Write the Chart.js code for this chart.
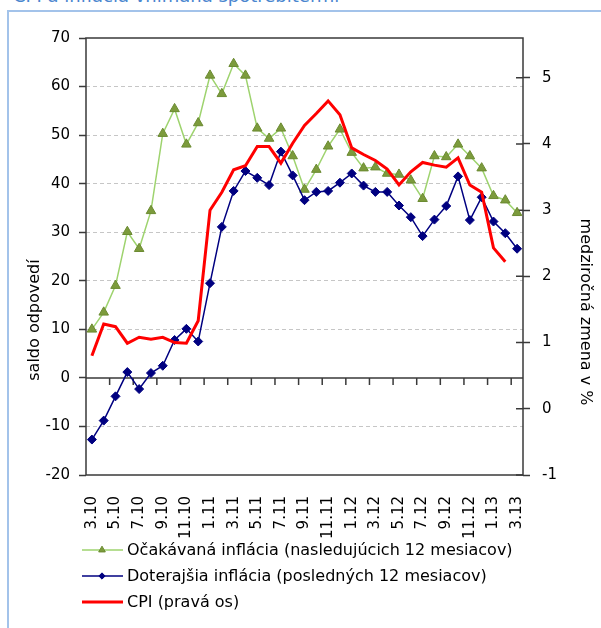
<!DOCTYPE html>
<html>
<head>
<meta charset="utf-8">
<script src="https://cdn.jsdelivr.net/npm/chart.js@4.4.1/dist/chart.umd.min.js"></script>
<style>
  body { margin: 0; background: #fff; overflow: hidden; }
  #title { position: absolute; left: 13px; top: -15px; font: 18px "DejaVu Sans"; color: #4a86cf; white-space: nowrap; }
  #box { position: absolute; left: 7px; top: 10px; width: 700px; height: 700px; border-top: 2px solid #a3c3ea; border-left: 2px solid #a3c3ea; }
  #wrap { position: absolute; left: 0; top: 0; width: 601px; height: 628px; }
</style>
</head>
<body>
<div id="title">CPI a inflácia vnímaná spotrebiteľmi</div>
<div id="box"></div>
<div id="wrap"><canvas id="chart"></canvas></div>
<script>
// months 3.10 .. 3.13
var months = ['3.10','4.10','5.10','6.10','7.10','8.10','9.10','10.10','11.10','12.10',
	'1.11','2.11','3.11','4.11','5.11','6.11','7.11','8.11','9.11','10.11','11.11','12.11',
	'1.12','2.12','3.12','4.12','5.12','6.12','7.12','8.12','9.12','10.12','11.12','12.12',
	'1.13','2.13','3.13'];

// saldo odpovedi - expected inflation (next 12 months)
var expected = [10.0, 13.5, 19.0, 30.1, 26.6, 34.4, 50.3, 55.4, 48.1, 52.5,
	62.3, 58.5, 64.7, 62.3, 51.4, 49.3, 51.4, 45.7, 38.8, 42.9, 47.7, 51.2,
	46.4, 43.2, 43.4, 42.1, 41.9, 40.7, 36.9, 45.7, 45.5, 48.1, 45.7, 43.2,
	37.5, 36.6, 34.0];

// saldo odpovedi - past inflation (last 12 months)
var past = [-12.7, -8.8, -3.8, 1.2, -2.3, 1.0, 2.5, 7.8, 10.1, 7.5,
	19.5, 31.1, 38.5, 42.6, 41.2, 39.7, 46.6, 41.7, 36.6, 38.3, 38.5, 40.2,
	42.1, 39.6, 38.3, 38.3, 35.5, 33.1, 29.2, 32.6, 35.4, 41.5, 32.5, 37.2,
	32.2, 29.8, 26.6];

// CPI y/y in % (right axis)
var cpi = [0.80, 1.28, 1.24, 0.99, 1.08, 1.05, 1.08, 1.00, 0.99, 1.33,
	3.00, 3.27, 3.61, 3.67, 3.96, 3.96, 3.71, 4.01, 4.28, 4.46, 4.65, 4.44,
	3.94, 3.84, 3.75, 3.62, 3.38, 3.58, 3.72, 3.68, 3.65, 3.79, 3.38, 3.27,
	2.43, 2.22, null];

var leftTicks = [-20, -10, 0, 10, 20, 30, 40, 50, 60, 70];
var rightTicks = [-1, 0, 1, 2, 3, 4, 5];

var labelLeft = 'saldo odpovedí';
var labelRight = 'medziročná zmena v %';

var frameColor = '#3a3a3a';

Chart.defaults.font.family = '"DejaVu Sans"';
Chart.defaults.color = '#000';

var framePlugin = {
	id: 'frame',
	beforeDatasetsDraw: function (chart) {
		var ctx = chart.ctx, a = chart.chartArea, sx = chart.scales.x;
		var y0 = chart.scales.y.getPixelForValue(0);
		var step = sx.getPixelForValue(1) - sx.getPixelForValue(0);
		ctx.save();
		ctx.strokeStyle = frameColor;
		ctx.lineWidth = 1.5;
		ctx.strokeRect(a.left, a.top, a.right - a.left, a.bottom - a.top);
		ctx.beginPath();
		ctx.moveTo(a.left, y0);
		ctx.lineTo(a.right, y0);
		for (var k = 2; k < months.length; k += 2)
		{
			var x = sx.getPixelForValue(k) - step / 2;
			ctx.moveTo(x, y0);
			ctx.lineTo(x, y0 + 7);
		}
		//inner half of the right axis ticks
		rightTicks.forEach(function (v) {
			var y = chart.scales.y2.getPixelForValue(v);
			ctx.moveTo(a.right - 7, y);
			ctx.lineTo(a.right, y);
		});
		ctx.stroke();
		ctx.restore();
	},
	afterDraw: function (chart) {
		var ctx = chart.ctx, a = chart.chartArea;
		ctx.save();
		ctx.fillStyle = '#000';
		ctx.font = '16px "DejaVu Sans"';
		ctx.textAlign = 'center';
		ctx.textBaseline = 'middle';
		//axis titles
		ctx.save();
		ctx.translate(a.left - 51, a.top + 282);
		ctx.rotate(-Math.PI / 2);
		ctx.fillText(labelLeft, 0, 0);
		ctx.restore();
		ctx.save();
		ctx.translate(a.right + 62, a.top + 274);
		ctx.rotate(Math.PI / 2);
		ctx.fillText(labelRight, 0, 0);
		ctx.restore();
		//legend
		ctx.textAlign = 'left';
		var rows = [75, 101, 127];
		chart.data.datasets.forEach(function (ds, i) {
			var y = a.bottom + rows[i];
			ctx.strokeStyle = ds.borderColor;
			ctx.lineWidth = ds.borderWidth;
			ctx.beginPath();
			ctx.moveTo(a.left - 4, y);
			ctx.lineTo(a.left + 37, y);
			ctx.stroke();
			if (ds.pointRadius > 0)
			{
				ctx.fillStyle = ds.pointBackgroundColor;
				ctx.strokeStyle = ds.pointBorderColor;
				ctx.lineWidth = 1;
				Chart.helpers.drawPoint(ctx, {pointStyle: ds.pointStyle, radius: ds.pointRadius * 0.7, borderWidth: 1}, a.left + 16, y);
			}
			ctx.fillStyle = '#000';
			ctx.fillText(ds.label, a.left + 41, y + 1);
		});
		ctx.restore();
	}
};

new Chart(document.getElementById('chart'), {
	type: 'line',
	data: {
		labels: months,
		datasets: [
			{
				label: 'Očakávaná inflácia (nasledujúcich 12 mesiacov)',
				data: expected,
				yAxisID: 'y',
				order: 3,
				borderColor: '#9ed36e',
				borderWidth: 1.5,
				pointStyle: 'triangle',
				pointRadius: 5.5,
				pointBackgroundColor: '#7c9b3c',
				pointBorderColor: '#6b8a31',
				pointBorderWidth: 1
			},
			{
				label: 'Doterajšia inflácia (posledných 12 mesiacov)',
				data: past,
				yAxisID: 'y',
				order: 2,
				borderColor: '#000080',
				borderWidth: 1.5,
				pointStyle: 'rectRot',
				pointRadius: 4.5,
				pointBackgroundColor: '#000080',
				pointBorderColor: '#000080',
				pointBorderWidth: 1
			},
			{
				label: 'CPI (pravá os)',
				data: cpi,
				yAxisID: 'y2',
				order: 1,
				borderColor: '#ff0000',
				borderWidth: 3,
				pointRadius: 0
			}
		]
	},
	options: {
		responsive: true,
		maintainAspectRatio: false,
		animation: false,
		layout: { padding: { top: 38, left: 0, right: 0, bottom: 0 } },
		plugins: { legend: { display: false }, tooltip: { enabled: false } },
		scales: {
			x: {
				offset: true,
				grid: { display: false },
				border: { display: false },
				ticks: {
					autoSkip: false, maxRotation: 90, minRotation: 90, padding: 13,
					font: { size: 15 },
					callback: function (v, i) { return i % 2 === 0 ? months[i] : ''; }
				},
				afterFit: function (s) { s.height = 153; }
			},
			y: {
				position: 'left',
				min: leftTicks[0],
				max: leftTicks[leftTicks.length - 1],
				afterBuildTicks: function (s) { s.ticks = leftTicks.map(function (v) { return { value: v }; }); },
				ticks: { padding: 9, font: { size: 15 } },
				grid: {
					color: function (c) {
						var v = c.tick ? c.tick.value : null;
						return (v === 0 || v === 70 || v === -20) ? 'rgba(0,0,0,0)' : '#c6c6c6';
					},
					tickColor: frameColor,
					tickLength: 7,
					tickWidth: 1.5,
					lineWidth: 1
				},
				border: { display: false, dash: [4, 3] },
				afterFit: function (s) { s.width = 86; }
			},
			y2: {
				position: 'right',
				min: -1,
				max: 5.6,
				afterBuildTicks: function (s) { s.ticks = rightTicks.map(function (v) { return { value: v }; }); },
				ticks: { padding: 12, font: { size: 15 } },
				grid: { drawOnChartArea: false, tickColor: frameColor, tickLength: 7, tickWidth: 1.5 },
				border: { display: false },
				afterFit: function (s) { s.width = 78; }
			}
		}
	},
	plugins: [framePlugin]
});
</script>
</body>
</html>
